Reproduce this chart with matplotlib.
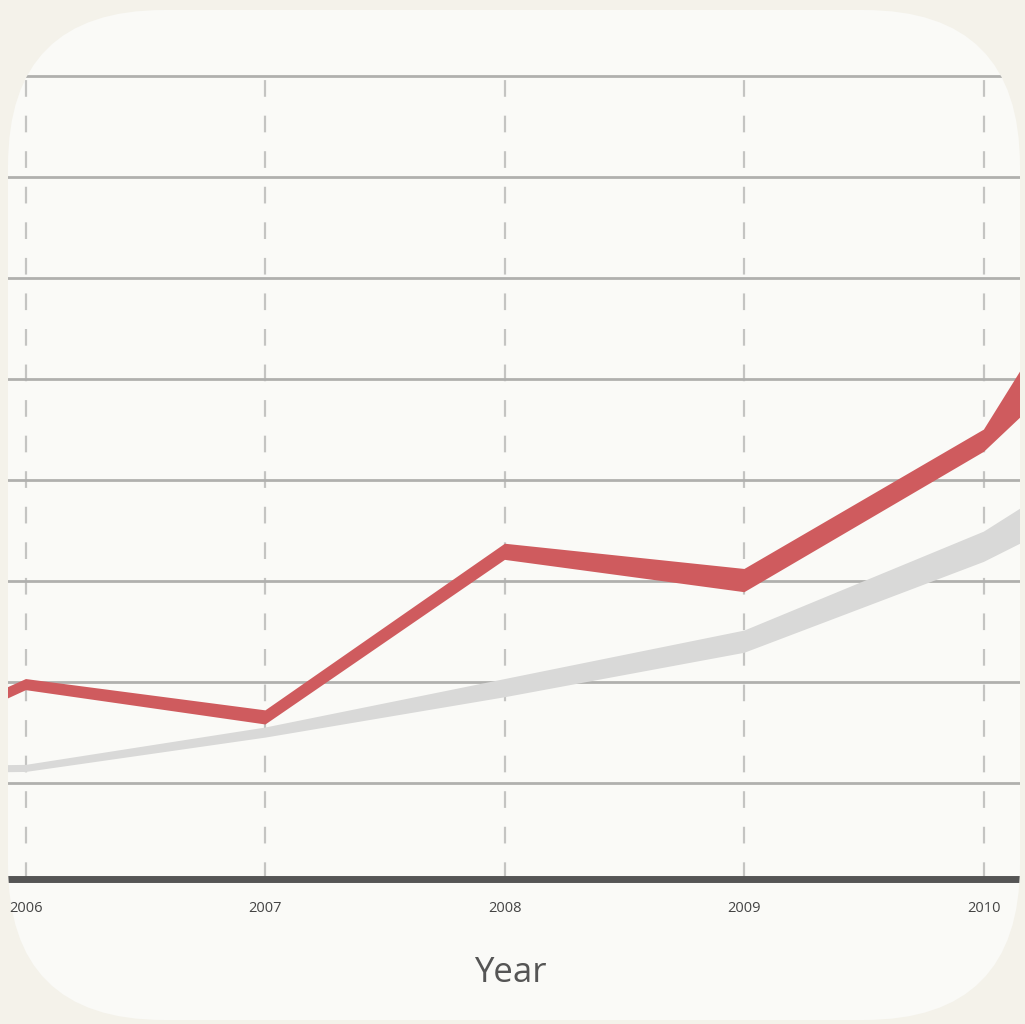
import matplotlib.pyplot as plt
from matplotlib.patches import FancyBboxPatch

# datos (banda roja y banda gris, límites inferior/superior)
years = [2005, 2006, 2007, 2008, 2009, 2010, 2011]
red_hi = [9.6, 20.3, 17.2, 33.7, 31.2, 45.0, 83.1]
red_lo = [8.3, 19.2, 15.8, 32.1, 28.9, 42.8, 65.2]
grey_hi = [11.5, 11.8, 15.5, 20.3, 25.1, 34.9, 49.9]
grey_lo = [10.8, 11.1, 14.5, 18.5, 22.9, 31.9, 43.8]

tick_years = [2006, 2007, 2008, 2009, 2010]
grid_vals = [10, 20, 30, 40, 50, 60, 70, 80]

plt.rcParams['font.family'] = ['Open Sans', 'DejaVu Sans']

fig = plt.figure(figsize=(10.25, 10.24), dpi=100)
fig.patch.set_facecolor('#f4f2ea')

# tarjeta redondeada de fondo
card = FancyBboxPatch((8 / 1025, 4 / 1024), (1020 - 8) / 1025, (1014 - 4) / 1024,
                      boxstyle='round,pad=0,rounding_size=0.152',
                      transform=fig.transFigure, facecolor='#fafaf7',
                      edgecolor='none', zorder=-1)
fig.patches.append(card)

ax = fig.add_axes([8 / 1025, 0.1416, 1014 / 1025, 0.7939])
ax.set_facecolor('none')

ax.fill_between(years, grey_lo, grey_hi, color='#d9d9d8', linewidth=0, zorder=3)
ax.fill_between(years, red_lo, red_hi, color='#cf5b5e', linewidth=0, zorder=4)

ax.set_xlim(2005.925, 2010.159)
ax.set_ylim(0.5, 81)

ax.set_xticks(tick_years)
ax.set_xticklabels([str(y) for y in tick_years])
ax.set_yticks(grid_vals)
ax.tick_params(axis='y', left=False, labelleft=False)
ax.tick_params(axis='x', length=0, pad=16, labelsize=10.5, labelcolor='#444444')

ax.grid(axis='y', color='#b0b0ae', linewidth=2.0)
ax.grid(axis='x', color='#c4c4c2', linewidth=1.6, linestyle=(0, (7.5, 8.5)))
ax.set_axisbelow(True)

for side in ['top', 'left', 'right']:
    ax.spines[side].set_visible(False)
ax.spines['bottom'].set_color('#555555')
ax.spines['bottom'].set_linewidth(5)
ax.spines['bottom'].set_zorder(5)

ax.set_xlabel('Year', fontsize=25, color='#555555', va='center')
ax.xaxis.set_label_coords(0.495, -0.116)

# recortar todo a la tarjeta redondeada
for art in ax.collections + ax.lines:
    art.set_clip_path(card)
for t in ax.xaxis.get_major_ticks() + ax.yaxis.get_major_ticks():
    t.gridline.set_clip_path(card)
    t.label1.set_clip_path(card)
ax.spines['bottom'].set_clip_path(card)

fig.savefig('out.png', dpi=100, facecolor=fig.get_facecolor())
